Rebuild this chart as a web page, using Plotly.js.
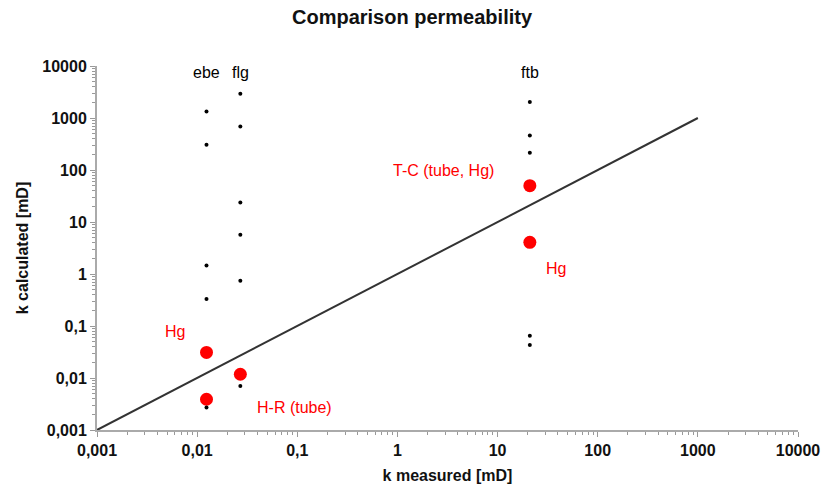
<!DOCTYPE html>
<html>
<head>
<meta charset="utf-8">
<script src="https://cdn.plot.ly/plotly-3.0.1.min.js"></script>
<style>html,body{margin:0;padding:0;background:#fff;}#chart{width:824px;height:493px;}</style>
</head>
<body>
<div id="chart"></div>
<script>
// Sample groups (k measured) and calculated permeabilities
const groups = ["ebe", "flg", "ftb"];
const kMeasured = [0.0124, 0.027, 21];
const calcEbe = [1340, 306, 1.45, 0.33, 0.0027];
const calcFlg = [2940, 689, 23.6, 5.7, 0.74, 0.0070];
const calcFtb = [2020, 462, 214, 0.065, 0.043];
// Highlighted methods (red)
const redX = [0.0124, 0.0124, 0.027, 21, 21];
const redY = [0.031, 0.0039, 0.0118, 50, 4.06];
const redLabels = ["Hg", "H-R (tube)", "T-C (tube, Hg)", "Hg"];
const redLabelX = [0.006, 0.094, 2.9, 38];
const redLabelY = [0.08, 0.00265, 96, 1.25];
// 1:1 line
const lineX = [0.001, 1000];
const lineY = [0.001, 1000];
// Axis ticks
const tickVals = [0.001, 0.01, 0.1, 1, 10, 100, 1000, 10000];
const tickText = ["0,001", "0,01", "0,1", "1", "10", "100", "1000", "10000"];
const minorMultipliers = [2, 3, 4, 5, 6, 7, 8, 9];
const groupLabelY = 7500;

const minorVals = [];
tickVals.slice(0, -1).forEach(d => minorMultipliers.forEach(m => minorVals.push(d * m)));

const blackX = [], blackY = [];
[calcEbe, calcFlg, calcFtb].forEach((arr, i) => {
  arr.forEach(v => { blackX.push(kMeasured[i]); blackY.push(v); });
});

const font = "Liberation Sans, Arial, sans-serif";
const traces = [
  {x: lineX, y: lineY, mode: "lines", type: "scatter", line: {color: "#333", width: 2}, hoverinfo: "skip"},
  {x: redX, y: redY, mode: "markers", type: "scatter", marker: {color: "#ff0000", size: 13}},
  {x: blackX, y: blackY, mode: "markers", type: "scatter", marker: {color: "#000", size: 4}}
];

const annotations = [];
groups.forEach((g, i) => annotations.push({
  x: Math.log10(kMeasured[i]), y: Math.log10(groupLabelY), xref: "x", yref: "y",
  text: g, showarrow: false, font: {family: font, size: 16, color: "#000"}
}));
redLabels.forEach((t, i) => annotations.push({
  x: Math.log10(redLabelX[i]), y: Math.log10(redLabelY[i]), xref: "x", yref: "y",
  text: t, showarrow: false, font: {family: font, size: 16, color: "#ff0000"}
}));

const axisCommon = {
  type: "log",
  tickmode: "array", tickvals: tickVals, ticktext: tickText,
  showgrid: false, zeroline: false,
  showline: true, linecolor: "#aaa", linewidth: 2,
  ticks: "outside", ticklen: 5, tickcolor: "#999", tickwidth: 1,
  minor: {tickmode: "array", tickvals: minorVals, ticks: "outside", ticklen: 3, tickcolor: "#999", tickwidth: 1, showgrid: false},
  tickfont: {family: font, size: 16, color: "#111", weight: "bold"}
};

const layout = {
  width: 824, height: 493,
  margin: {l: 97, r: 26, t: 66, b: 63},
  paper_bgcolor: "#fff", plot_bgcolor: "#fff",
  showlegend: false,
  title: {text: "<b>Comparison permeability</b>", x: 0.5, xanchor: "center", y: 0.965, yanchor: "middle",
          font: {family: font, size: 20, color: "#111"}},
  xaxis: Object.assign({}, axisCommon, {
    range: [-3, 4],
    title: {text: "<b>k measured [mD]</b>", font: {family: font, size: 16, color: "#111"}, standoff: 12}
  }),
  yaxis: Object.assign({}, axisCommon, {
    range: [-3, 4],
    title: {text: "<b>k calculated [mD]</b>", font: {family: font, size: 16, color: "#111"}, standoff: 10}
  }),
  annotations: annotations
};

Plotly.newPlot("chart", traces, layout, {displayModeBar: false, staticPlot: true});
</script>
</body>
</html>
